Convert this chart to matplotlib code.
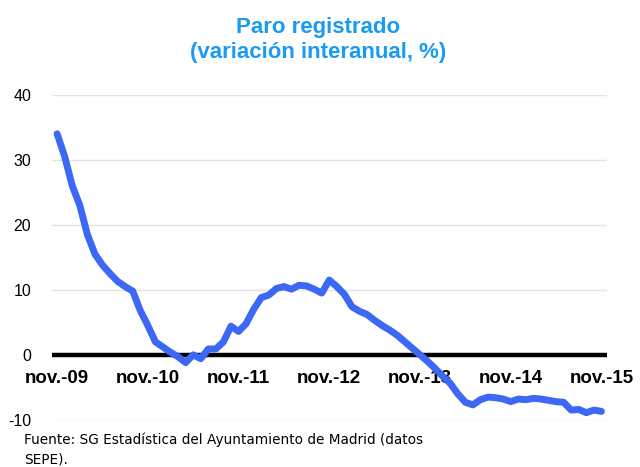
import matplotlib

matplotlib.use("Agg")
import matplotlib.pyplot as plt

plt.rcParams["axes.unicode_minus"] = False

# Monthly year-on-year change, nov-09 .. nov-15
paro = [
    34.0, 30.5, 26.0, 23.0, 18.5, 15.5, 13.8, 12.5, 11.3, 10.5, 9.8, 6.8,
    4.5, 2.0, 1.2, 0.4, -0.3, -1.2, 0.0, -0.6, 0.9, 0.9, 2.0, 4.4,
    3.6, 4.8, 7.0, 8.8, 9.2, 10.2, 10.5, 10.1, 10.7, 10.6, 10.1, 9.5,
    11.5, 10.5, 9.3, 7.4, 6.7, 6.2, 5.3, 4.5, 3.8, 3.0, 2.0, 1.0,
    0.0, -1.0, -2.1, -3.3, -4.4, -6.0, -7.3, -7.7, -6.9, -6.5, -6.6, -6.8,
    -7.2, -6.8, -6.9, -6.7, -6.8, -7.0, -7.2, -7.3, -8.5, -8.4, -8.9, -8.5,
    -8.7,
]
year_labels = ["nov.-09", "nov.-10", "nov.-11", "nov.-12", "nov.-13", "nov.-14", "nov.-15"]
yticks = [-10, 0, 10, 20, 30, 40]

blue_line = "#3c68f5"
blue_title = "#1a9af0"

fig = plt.figure(figsize=(6.4, 4.67), dpi=100)
ax = fig.add_axes([0.081, 0.101, 0.867, 0.696])

months = list(range(len(paro)))
ax.plot(months, paro, color=blue_line, lw=5, solid_capstyle="round", zorder=3)
ax.axhline(0, color="black", lw=3.2, zorder=2)

ax.set_xlim(-0.7, len(paro) - 0.3)
ax.set_ylim(-10, 40)
ax.spines["bottom"].set_position(("data", 0))
for s in ax.spines.values():
    s.set_visible(False)

ax.set_yticks(yticks)
ax.yaxis.grid(True, color="#e3e3e3", lw=1)
ax.set_axisbelow(True)
ax.tick_params(axis="y", length=0, pad=15, labelsize=11.5)
for lab in ax.get_yticklabels():
    lab.set_fontfamily("Liberation Sans")

ax.set_xticks(months[::12])
ax.set_xticklabels(year_labels, fontfamily="Liberation Sans", fontweight="bold", fontsize=13.5)
ax.tick_params(axis="x", length=0, pad=11)

fig.text(0.497, 0.942, "Paro registrado", ha="center", va="center",
         fontsize=16, fontweight="bold", color=blue_title, fontfamily="Liberation Sans")
fig.text(0.497, 0.888, "(variación interanual, %)", ha="center", va="center",
         fontsize=16, fontweight="bold", color=blue_title, fontfamily="Liberation Sans")

fig.text(0.037, 0.058, "Fuente: SG Estadística del Ayuntamiento de Madrid (datos",
         ha="left", va="center", fontsize=9.8, fontfamily="DejaVu Sans")
fig.text(0.037, 0.015, "SEPE).", ha="left", va="center", fontsize=9.8,
         fontfamily="DejaVu Sans")

fig.savefig("out.png", dpi=100)
plt.close(fig)
